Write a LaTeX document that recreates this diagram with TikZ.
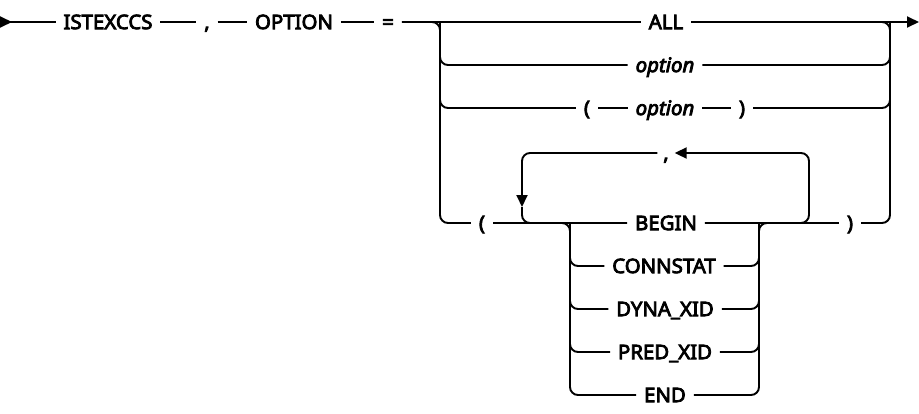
\documentclass[tikz,border=0pt]{standalone}
\usepackage{fontspec}
\setmainfont{Noto Sans}[FakeStretch=1.02,FakeBold=4]
\usetikzlibrary{arrows.meta}
\begin{document}
\begin{tikzpicture}[x=1pt,y=-1pt,line width=1.9pt,
  tok/.style={font=\fontsize{20}{24}\selectfont, inner xsep=7pt, inner ysep=0pt, text height=14.2pt, text depth=0pt},
  var/.style={tok, font=\fontsize{20}{24}\selectfont\itshape},
  rail/.style={rounded corners=8pt},
  tip/.style={-{Triangle[length=12pt,width=11pt]}}]
\useasboundingbox (0,0) rectangle (919,413);
% rails
\coordinate (start) at (0,22);
\coordinate (stop) at (919,22);
\coordinate (L) at (440,0);
\coordinate (R) at (890,0);
\coordinate (LL) at (522,0);
\coordinate (LR) at (809,0);
\coordinate (IL) at (570,0);
\coordinate (IR) at (759,0);
\coordinate (dn) at (522,207);
% tokens
\node[tok] (istex) at (108,22) {ISTEXCCS};
\node[tok] (c1) at (207,22) {,};
\node[tok] (opt) at (294,22) {OPTION};
\node[tok] (eq) at (388,22) {=};
\node[tok] (all) at (666,22) {ALL};
\node[var] (o1) at (665,65) {option};
\node[tok] (lp1) at (587,108) {(};
\node[var] (o2) at (665,108) {option};
\node[tok] (rp1) at (742,108) {)};
\node[tok,inner xsep=5pt] (c2) at (666,153) {,};
\node[tok] (lp2) at (482,223) {(};
\node[tok] (begin) at (666,223) {BEGIN};
\node[tok] (rp2) at (850,223) {)};
\node[tok] (connstat) at (664,266) {CONNSTAT};
\node[tok] (dyna) at (665,309) {DYNA\_XID};
\node[tok] (pred) at (665,352) {PRED\_XID};
\node[tok] (endk) at (665,395) {END};
% main line
\draw[{Triangle[reversed,length=12pt,width=11pt]}-] (start) -- (istex);
\draw (istex) -- (c1);
\draw (c1) -- (opt);
\draw (opt) -- (eq);
\draw (eq) -- (all);
\draw[tip] (all) -- (stop);
% outer choice
\draw[rail] (eq) -- (L |- eq) -- (L |- begin) -- (lp2);
\draw[rail] (L |- all) -- (L |- o1) -- (o1);
\draw[rail] (L |- all) -- (L |- lp1) -- (lp1);
\draw (lp1) -- (o2);
\draw (o2) -- (rp1);
\draw[rail] (o1) -- (R |- o1) -- (R |- all);
\draw[rail] (rp1) -- (R |- rp1) -- (R |- all);
\draw[rail] (rp2) -- (R |- rp2) -- (R |- all) -- (all);
% repeat loop
\draw[rail,tip] (begin) -- (LR |- begin) -- (LR |- c2) -- (c2);
\draw[rail,tip] (c2) -- (LL |- c2) -- (dn);
\draw[rail] (dn) -- (LL |- begin) -- (begin);
% inner choice
\draw (lp2) -- (begin);
\draw (begin) -- (rp2);
\draw[rail] (lp2) -- (IL |- begin) -- (IL |- endk) -- (endk);
\draw[rail] (endk) -- (IR |- endk) -- (IR |- begin) -- (rp2);
\foreach \n in {connstat,dyna,pred}{
  \draw[rail] (IL |- begin) -- (IL |- \n) -- (\n);
  \draw[rail] (\n) -- (IR |- \n) -- (IR |- begin);
}
\end{tikzpicture}
\end{document}
